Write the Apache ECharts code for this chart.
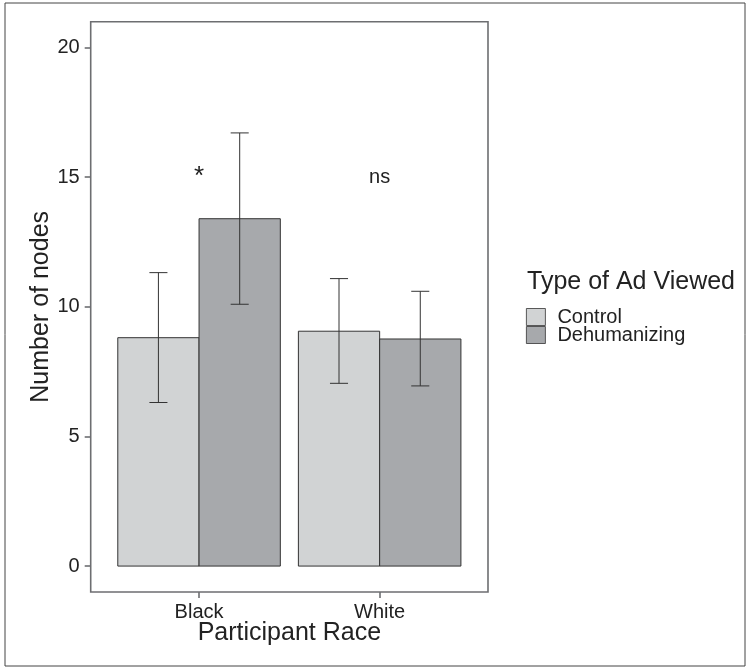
<!DOCTYPE html>
<html>
<head>
<meta charset="utf-8">
<script src="https://cdn.jsdelivr.net/npm/echarts@6/dist/echarts.min.js"></script>
<style>
  html, body { margin: 0; padding: 0; background: #fff; }
  #chart { width: 748px; height: 668px; }
</style>
</head>
<body>
<div id="chart"></div>
<script>
// categories on the x axis (positions 1 and 2)
const races = ['Black', 'White']
const groups = ['Control', 'Dehumanizing']

// means and error bar ends, one entry per race
const controlMean = [8.81, 9.06]
const controlLow = [6.31, 7.05]
const controlHigh = [11.32, 11.09]
const dehumMean = [13.40, 8.76]
const dehumLow = [10.10, 6.95]
const dehumHigh = [16.71, 10.60]

// y ticks
const yTicks = [0, 5, 10, 15, 20]

// significance labels
const annText = ['*', 'ns']
const annY = [15, 15]

const font = 'Liberation Sans, Arial, Helvetica, sans-serif'
const fills = ['#d1d3d4', '#a7a9ac']
const edge = '#333333'
const frame = '#6d6e71'
const barW = 0.45
const capW = 0.1

const toData = (mean, low, high) => races.map((r, i) => [i + 1, mean[i], low[i], high[i]])

const makeRender = (offset, fill) => {
  return (params, api) => {
    const x = api.value(0) + offset
    const tl = api.coord([x - barW / 2, api.value(1)])
    const br = api.coord([x + barW / 2, 0])
    const hi = api.coord([x, api.value(3)])
    const lo = api.coord([x, api.value(2)])
    const capL = api.coord([x - capW / 2, 0])[0]
    const capR = api.coord([x + capW / 2, 0])[0]
    const lineStyle = { stroke: edge, lineWidth: 1 }
    return {
      type: 'group',
      children: [
        {
          type: 'rect',
          shape: { x: tl[0], y: tl[1], width: br[0] - tl[0], height: br[1] - tl[1] },
          style: { fill: fill, stroke: edge, lineWidth: 1 }
        },
        { type: 'line', shape: { x1: hi[0], y1: hi[1], x2: lo[0], y2: lo[1] }, style: lineStyle },
        { type: 'line', shape: { x1: capL, y1: hi[1], x2: capR, y2: hi[1] }, style: lineStyle },
        { type: 'line', shape: { x1: capL, y1: lo[1], x2: capR, y2: lo[1] }, style: lineStyle }
      ]
    }
  }
}

const chart = echarts.init(document.getElementById('chart'))

const option = {
  backgroundColor: '#ffffff',
  animation: false,
  textStyle: { fontFamily: font },
  graphic: [
    {
      type: 'rect',
      shape: { x: 5, y: 3, width: 740, height: 663 },
      style: { fill: 'none', stroke: '#444', lineWidth: 1 },
      silent: true
    }
  ],
  title: {
    text: 'Type of Ad Viewed',
    left: 527,
    top: 270,
    padding: 0,
    textStyle: { fontFamily: font, fontSize: 25, fontWeight: 'normal', color: '#222' }
  },
  legend: {
    orient: 'vertical',
    left: 526,
    top: 307,
    padding: 0,
    itemGap: -2,
    itemWidth: 19,
    itemHeight: 17,
    icon: 'rect',
    textStyle: { fontFamily: font, fontSize: 20, color: '#222', lineHeight: 17, padding: [0, 0, 0, 7] },
    data: groups.map((g, i) => ({
      name: g,
      itemStyle: { color: fills[i], borderColor: edge, borderWidth: 0.8 }
    }))
  },
  grid: {
    left: 90.7,
    right: 260,
    top: 21.7,
    bottom: 76,
    show: true,
    borderColor: frame,
    borderWidth: 1.6,
    backgroundColor: '#fff'
  },
  xAxis: {
    type: 'value',
    min: 0.4,
    max: 2.6,
    name: 'Participant Race',
    nameLocation: 'middle',
    nameGap: 29,
    nameMoveOverlap: false,
    nameTextStyle: { fontFamily: font, fontSize: 25, color: '#222' },
    axisLine: { show: false, onZero: false },
    splitLine: { show: false },
    axisTick: { show: true, length: 6, customValues: [1, 2], lineStyle: { color: frame, width: 1.6 } },
    axisLabel: {
      customValues: [1, 2],
      margin: 10,
      fontFamily: font,
      fontSize: 20,
      color: '#222',
      formatter: (v) => races[Math.round(v) - 1]
    }
  },
  yAxis: {
    type: 'value',
    min: -1,
    max: 21,
    name: 'Number of nodes',
    nameLocation: 'middle',
    nameGap: 37,
    nameMoveOverlap: false,
    nameTextStyle: { fontFamily: font, fontSize: 25, color: '#222' },
    axisLine: { show: false, onZero: false },
    splitLine: { show: false },
    axisTick: { show: true, length: 6, customValues: yTicks, lineStyle: { color: frame, width: 1.6 } },
    axisLabel: { customValues: yTicks, margin: 11, fontFamily: font, fontSize: 20, color: '#222' }
  },
  series: [
    {
      name: groups[0],
      type: 'custom',
      itemStyle: { color: fills[0], borderColor: edge },
      renderItem: makeRender(-barW / 2, fills[0]),
      data: toData(controlMean, controlLow, controlHigh)
    },
    {
      name: groups[1],
      type: 'custom',
      itemStyle: { color: fills[1], borderColor: edge },
      renderItem: makeRender(barW / 2, fills[1]),
      data: toData(dehumMean, dehumLow, dehumHigh)
    },
    {
      name: 'annotations',
      type: 'custom',
      silent: true,
      renderItem: (params, api) => {
        const p = api.coord([api.value(0), api.value(1)])
        const star = annText[params.dataIndex] === '*'
        return {
          type: 'text',
          x: p[0],
          y: p[1],
          style: {
            text: annText[params.dataIndex],
            fontFamily: font,
            fontSize: star ? 26 : 20,
            fill: '#222',
            align: 'center',
            verticalAlign: 'middle'
          }
        }
      },
      data: races.map((r, i) => [i + 1, annY[i]])
    }
  ]
}

chart.setOption(option)
</script>
</body>
</html>
